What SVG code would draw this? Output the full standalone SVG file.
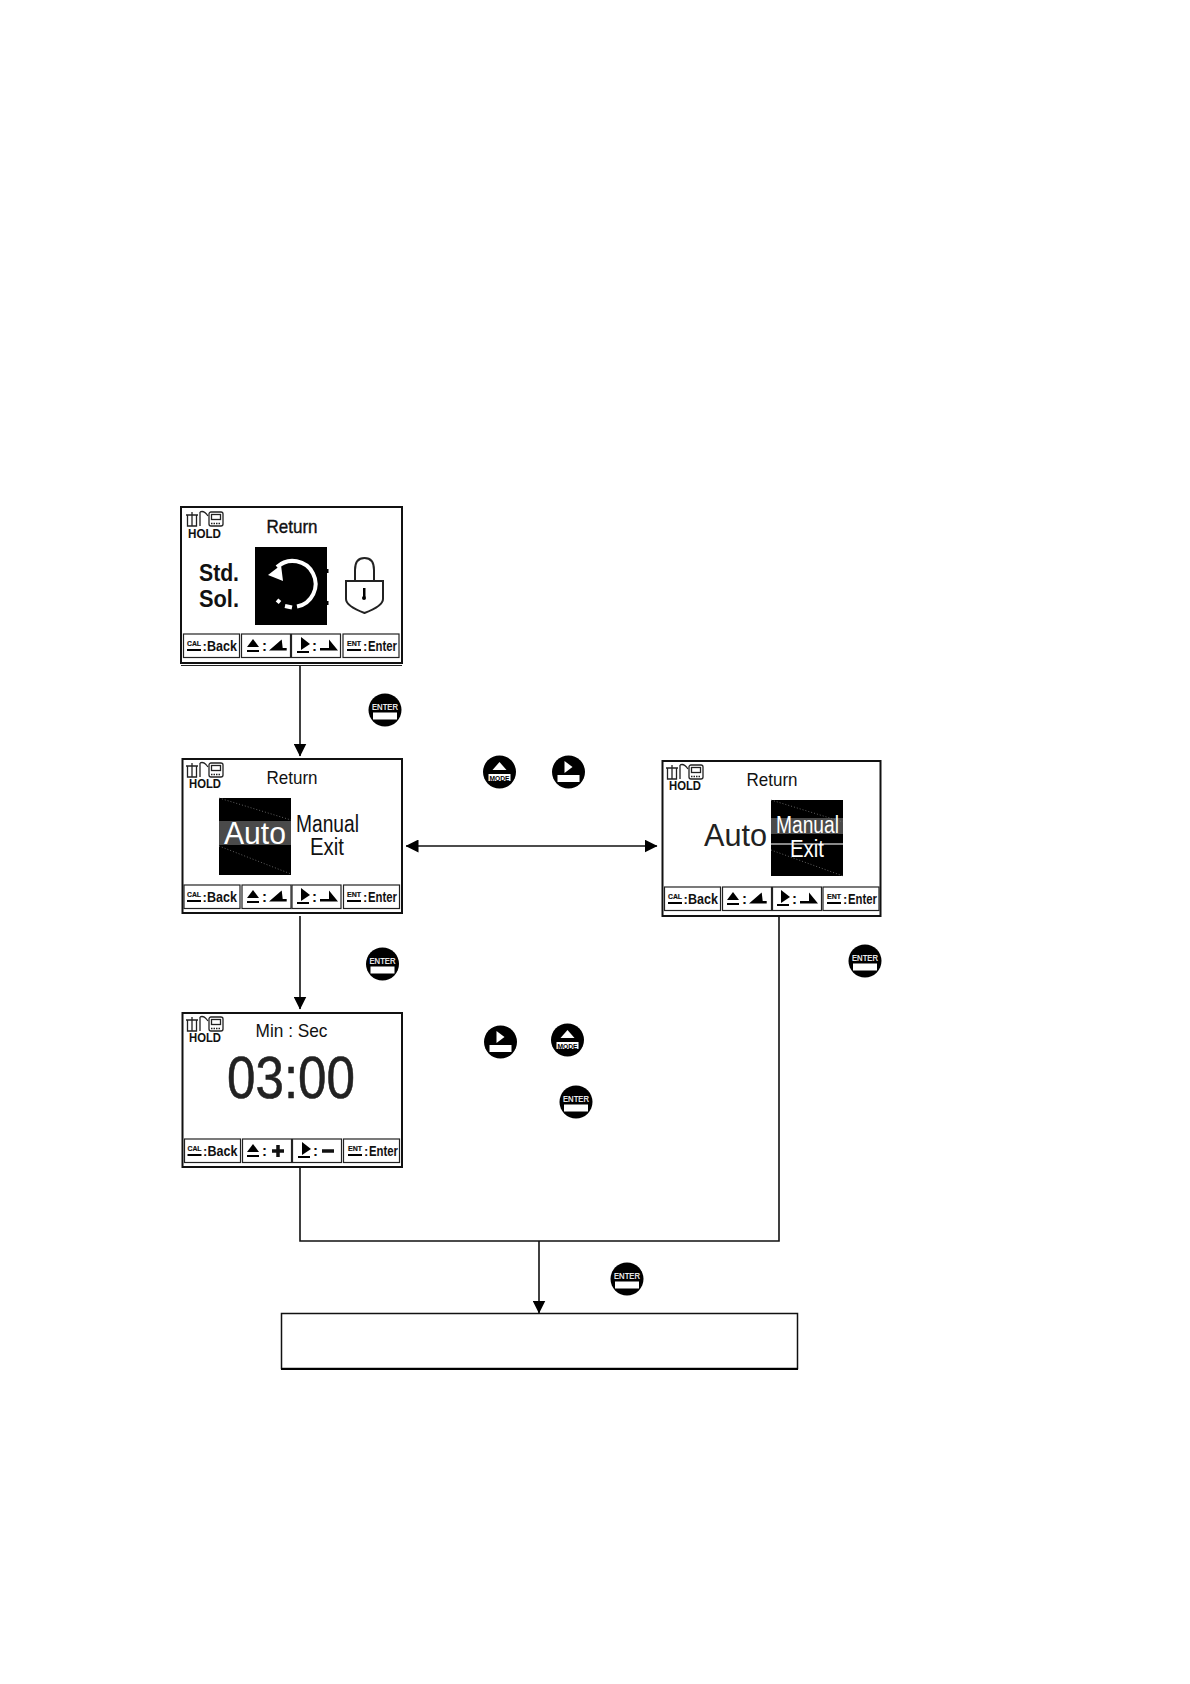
<svg xmlns="http://www.w3.org/2000/svg" xmlns:xlink="http://www.w3.org/1999/xlink" width="1190" height="1684" viewBox="0 0 1190 1684">
<style>
text{font-family:"Liberation Sans",Arial,sans-serif;fill:#111}
.scr{fill:#fff;stroke:#111;stroke-width:2}
.btn{fill:#fff;stroke:#222;stroke-width:1.2}
.hold{font-size:13.5px;font-weight:bold}
.ttl{font-size:19px;text-anchor:middle}
.small{font-size:7.500px;font-weight:bold;stroke:#111;stroke-width:.2}
.bk{font-size:15px;font-weight:bold}
.cl{font-size:13px;font-weight:bold}
.big{font-size:23px}
.con{fill:none;stroke:#111;stroke-width:1.600}
.ek{font-size:9px;fill:#fff;text-anchor:middle;stroke:#fff;stroke-width:.2}
.mk{font-size:7px;font-weight:bold;fill:#000;text-anchor:middle}
.scan{fill:none;stroke:#777;stroke-width:.8;stroke-dasharray:1 2}
</style>
<defs>
<marker id="ah" viewBox="0 0 13 13" refX="12.500" refY="6.500" markerWidth="13" markerHeight="13" markerUnits="userSpaceOnUse" orient="auto-start-reverse"><path d="M0 0L13 6.500L0 13Z" fill="#000"/></marker>
<g id="status" fill="none" stroke="#222" stroke-width="1.300">
<path d="M0 3H12M1.500 3V14H10.500V3M6 0V14M14 0V14M14 0Q18 -2 22 4"/>
<rect x="23" y="0" width="14" height="14" rx="2"/><rect x="25.500" y="2.500" width="9" height="5"/><path d="M25 11.500H35" stroke-dasharray="1.500 1"/>
</g>
<g id="keyUp"><path d="M0 8L6 0L12 8Z"/><rect y="11" width="12" height="2"/></g>
<g id="keyRight"><path d="M4 -2L13 5L4 11Z"/><rect x="0" y="12" width="12" height="2"/></g>
<path id="rampUp" d="M0 11L12.700 0L13.700 8.500H17.700V11Z"/>
<path id="rampDown" d="M0 8.500H9V0L18 11H0Z"/>
</defs>

<g id="connectors">
<path class="con" d="M300 665V756" marker-end="url(#ah)"/>
<path class="con" d="M300 916V1009" marker-end="url(#ah)"/>
<path class="con" d="M406 846H657" marker-start="url(#ah)" marker-end="url(#ah)"/>
<path class="con" d="M300 1168V1241H779V916"/>
<path class="con" d="M539 1241V1313" marker-end="url(#ah)"/>
</g>

<g id="screen-return">
<rect class="scr" x="181" y="507" width="221" height="156"/>
<path d="M181 665.500H402" stroke="#222" fill="none"/>
<use href="#status" x="186" y="512"/>
<text class="hold" x="188" y="537.500" textLength="33" lengthAdjust="spacingAndGlyphs">HOLD</text>
<text class="ttl" x="292" y="533" stroke="#111" stroke-width=".4" textLength="51" lengthAdjust="spacingAndGlyphs">Return</text>
<text x="199" y="581" font-size="24" font-weight="bold" textLength="40" lengthAdjust="spacingAndGlyphs">Std.</text>
<text x="199" y="607" font-size="24" font-weight="bold" textLength="40" lengthAdjust="spacingAndGlyphs">Sol.</text>
<rect x="255" y="547" width="72" height="78" fill="#000"/>
<rect x="327" y="569" width="1.500" height="4" fill="#000"/><rect x="327" y="601" width="1.500" height="4" fill="#000"/>
<path d="M277 567A23 23 0 1 1 297 606.500" fill="none" stroke="#fff" stroke-width="4"/>
<path d="M292 607.500L285 606M280 602.500L277 600" fill="none" stroke="#fff" stroke-width="4"/>
<path d="M268 575L281 565L283 581Z" fill="#fff"/>
<path d="M346 581H383V599Q383 606 364.500 613Q346 606 346 599Z" fill="#fff" stroke="#222" stroke-width="2"/>
<path d="M355 580V570Q355 558 364.500 558Q374 558 374 570V580" fill="none" stroke="#222" stroke-width="2"/>
<path d="M363 588H365.500V597H363Z" fill="#000"/><circle cx="364" cy="598" r="2" fill="#000"/>
<g id="strip-1">
<rect class="btn" x="183.500" y="634" width="56" height="23.500"/><rect class="btn" x="241.500" y="634" width="49" height="23.500"/><rect class="btn" x="291.500" y="634" width="49" height="23.500"/><rect class="btn" x="343" y="634" width="56" height="23.500"/>
<text class="small" x="187" y="646" textLength="14" lengthAdjust="spacingAndGlyphs">CAL</text><rect x="187" y="649" width="14" height="2" fill="#000"/><text class="cl" x="202.500" y="651">:</text><text class="bk" x="207" y="651" textLength="30" lengthAdjust="spacingAndGlyphs">Back</text>
<use href="#keyUp" x="247" y="639"/><text class="bk" x="262" y="651">:</text><use href="#rampUp" x="269" y="639.500"/>
<use href="#keyRight" x="297" y="639"/><text class="bk" x="312" y="651">:</text><use href="#rampDown" x="320" y="639.500"/>
<text class="small" x="347" y="646" textLength="14" lengthAdjust="spacingAndGlyphs">ENT</text><rect x="347" y="649" width="14" height="2" fill="#000"/><text class="cl" x="363" y="651">:</text><text class="bk" x="368" y="651" textLength="29" lengthAdjust="spacingAndGlyphs">Enter</text>
</g>
</g>

<g id="screen-auto">
<rect class="scr" x="182.500" y="759" width="219.500" height="154"/>
<use href="#status" x="186" y="763"/>
<text class="hold" x="189" y="788" textLength="32" lengthAdjust="spacingAndGlyphs">HOLD</text>
<text class="ttl" x="292" y="784" textLength="51" lengthAdjust="spacingAndGlyphs">Return</text>
<rect x="219" y="798" width="72" height="77" fill="#000"/>
<rect x="219" y="821" width="72" height="24" fill="#4a4a4a"/>
<path class="scan" d="M219 798L291 820M219 846L291 874"/>
<text x="224" y="844" font-size="32" style="fill:#fff" textLength="62" lengthAdjust="spacingAndGlyphs">Auto</text>
<text class="big" x="296" y="832" textLength="63" lengthAdjust="spacingAndGlyphs">Manual</text>
<text class="big" x="310" y="855" textLength="34" lengthAdjust="spacingAndGlyphs">Exit</text>
<g id="strip-2">
<rect class="btn" x="184" y="885" width="56" height="23.500"/><rect class="btn" x="242" y="885" width="49" height="23.500"/><rect class="btn" x="292" y="885" width="49" height="23.500"/><rect class="btn" x="343.500" y="885" width="56" height="23.500"/>
<text class="small" x="187" y="897" textLength="14" lengthAdjust="spacingAndGlyphs">CAL</text><rect x="187" y="900" width="14" height="2" fill="#000"/><text class="cl" x="202.500" y="902">:</text><text class="bk" x="207" y="902" textLength="30" lengthAdjust="spacingAndGlyphs">Back</text>
<use href="#keyUp" x="247" y="890"/><text class="bk" x="262" y="902">:</text><use href="#rampUp" x="269" y="890.500"/>
<use href="#keyRight" x="297" y="890"/><text class="bk" x="312" y="902">:</text><use href="#rampDown" x="320" y="890.500"/>
<text class="small" x="347" y="897" textLength="14" lengthAdjust="spacingAndGlyphs">ENT</text><rect x="347" y="900" width="14" height="2" fill="#000"/><text class="cl" x="363" y="902">:</text><text class="bk" x="368" y="902" textLength="29" lengthAdjust="spacingAndGlyphs">Enter</text>
</g>
</g>

<g id="screen-manual">
<rect class="scr" x="662.500" y="761" width="218" height="155"/>
<use href="#status" x="666" y="765"/>
<text class="hold" x="669" y="790" textLength="32" lengthAdjust="spacingAndGlyphs">HOLD</text>
<text class="ttl" x="772" y="786" textLength="51" lengthAdjust="spacingAndGlyphs">Return</text>
<rect x="771" y="800" width="72" height="76" fill="#000"/>
<rect x="771" y="818" width="72" height="16" fill="#4a4a4a"/>
<rect x="771" y="843" width="72" height="2" fill="#888"/>
<path class="scan" d="M771 800L843 822M771 850L843 876"/>
<text x="704" y="846" font-size="32" textLength="63" lengthAdjust="spacingAndGlyphs" style="fill:#222">Auto</text>
<text class="big" x="776" y="833" style="fill:#fff" textLength="63" lengthAdjust="spacingAndGlyphs">Manual</text>
<text class="big" x="790" y="857" style="fill:#fff" textLength="34" lengthAdjust="spacingAndGlyphs">Exit</text>
<g id="strip-3">
<rect class="btn" x="664.500" y="887" width="56" height="23.500"/><rect class="btn" x="722.500" y="887" width="49" height="23.500"/><rect class="btn" x="772.500" y="887" width="49" height="23.500"/><rect class="btn" x="823" y="887" width="56" height="23.500"/>
<text class="small" x="668" y="899" textLength="14" lengthAdjust="spacingAndGlyphs">CAL</text><rect x="668" y="902" width="14" height="2" fill="#000"/><text class="cl" x="683.500" y="904">:</text><text class="bk" x="688" y="904" textLength="30" lengthAdjust="spacingAndGlyphs">Back</text>
<use href="#keyUp" x="727" y="892"/><text class="bk" x="742" y="904">:</text><use href="#rampUp" x="749" y="892.500"/>
<use href="#keyRight" x="777" y="892"/><text class="bk" x="792" y="904">:</text><use href="#rampDown" x="800" y="892.500"/>
<text class="small" x="827" y="899" textLength="14" lengthAdjust="spacingAndGlyphs">ENT</text><rect x="827" y="902" width="14" height="2" fill="#000"/><text class="cl" x="843" y="904">:</text><text class="bk" x="848" y="904" textLength="29" lengthAdjust="spacingAndGlyphs">Enter</text>
</g>
</g>

<g id="screen-timer">
<rect class="scr" x="182.500" y="1013" width="219.500" height="154"/>
<use href="#status" x="186" y="1017"/>
<text class="hold" x="189" y="1042" textLength="32" lengthAdjust="spacingAndGlyphs">HOLD</text>
<text class="ttl" x="291.500" y="1037" textLength="72" lengthAdjust="spacingAndGlyphs">Min : Sec</text>
<text x="227" y="1098" font-size="60" stroke="#222" stroke-width=".6" style="fill:#222" textLength="128" lengthAdjust="spacingAndGlyphs">03:00</text>
<g id="strip-4">
<rect class="btn" x="184.500" y="1139" width="56" height="23.500"/><rect class="btn" x="242.500" y="1139" width="49" height="23.500"/><rect class="btn" x="292.500" y="1139" width="49" height="23.500"/><rect class="btn" x="343.500" y="1139" width="56" height="23.500"/>
<text class="small" x="187.500" y="1151" textLength="14" lengthAdjust="spacingAndGlyphs">CAL</text><rect x="187.500" y="1154" width="14" height="2" fill="#000"/><text class="cl" x="203" y="1156">:</text><text class="bk" x="207.500" y="1156" textLength="30" lengthAdjust="spacingAndGlyphs">Back</text>
<use href="#keyUp" x="247" y="1144"/><text class="bk" x="262" y="1156">:</text><path d="M272 1151H284M278 1145V1157" stroke="#111" stroke-width="3.500" fill="none"/>
<use href="#keyRight" x="298" y="1144"/><text class="bk" x="313" y="1156">:</text><path d="M322 1151H334" stroke="#111" stroke-width="3.500" fill="none"/>
<text class="small" x="348" y="1151" textLength="14" lengthAdjust="spacingAndGlyphs">ENT</text><rect x="348" y="1154" width="14" height="2" fill="#000"/><text class="cl" x="364" y="1156">:</text><text class="bk" x="369" y="1156" textLength="29" lengthAdjust="spacingAndGlyphs">Enter</text>
</g>
</g>

<g id="result-box"><rect x="281.500" y="1313.500" width="516" height="55" fill="#fff" stroke="#111" stroke-width="1.500"/><path d="M281 1369H798" stroke="#000" stroke-width="2"/></g>

<g id="key-enter-1" transform="translate(385 710)"><circle r="16.500" fill="#000"/><text class="ek" y="0" textLength="26" lengthAdjust="spacingAndGlyphs">ENTER</text><rect x="-12" y="2.500" width="24" height="7" fill="#fff"/></g>
<g id="key-enter-2" transform="translate(382.500 964)"><circle r="16.500" fill="#000"/><text class="ek" y="0" textLength="26" lengthAdjust="spacingAndGlyphs">ENTER</text><rect x="-12" y="2.500" width="24" height="7" fill="#fff"/></g>
<g id="key-enter-3" transform="translate(865 961)"><circle r="16.500" fill="#000"/><text class="ek" y="0" textLength="26" lengthAdjust="spacingAndGlyphs">ENTER</text><rect x="-12" y="2.500" width="24" height="7" fill="#fff"/></g>
<g id="key-enter-4" transform="translate(576 1102)"><circle r="16.500" fill="#000"/><text class="ek" y="0" textLength="26" lengthAdjust="spacingAndGlyphs">ENTER</text><rect x="-12" y="2.500" width="24" height="7" fill="#fff"/></g>
<g id="key-enter-5" transform="translate(627 1279)"><circle r="16.500" fill="#000"/><text class="ek" y="0" textLength="26" lengthAdjust="spacingAndGlyphs">ENTER</text><rect x="-12" y="2.500" width="24" height="7" fill="#fff"/></g>
<g id="key-mode-1" transform="translate(499.500 772)"><circle r="16.500" fill="#000"/><path d="M-7 -2L0 -10L7 -2Z" fill="#fff"/><rect x="-11" y="2" width="22" height="7" fill="#fff"/><text class="mk" y="8.500" textLength="20" lengthAdjust="spacingAndGlyphs">MODE</text></g>
<g id="key-play-1" transform="translate(568.500 772)"><circle r="16.500" fill="#000"/><path d="M-4 -11L4 -5L-4 1Z" fill="#fff"/><rect x="-11" y="3" width="22" height="7" fill="#fff"/></g>
<g id="key-play-2" transform="translate(500.500 1042)"><circle r="16.500" fill="#000"/><path d="M-4 -11L4 -5L-4 1Z" fill="#fff"/><rect x="-11" y="3" width="22" height="7" fill="#fff"/></g>
<g id="key-mode-2" transform="translate(567.500 1040)"><circle r="16.500" fill="#000"/><path d="M-7 -2L0 -10L7 -2Z" fill="#fff"/><rect x="-11" y="2" width="22" height="7" fill="#fff"/><text class="mk" y="8.500" textLength="20" lengthAdjust="spacingAndGlyphs">MODE</text></g>
</svg>
